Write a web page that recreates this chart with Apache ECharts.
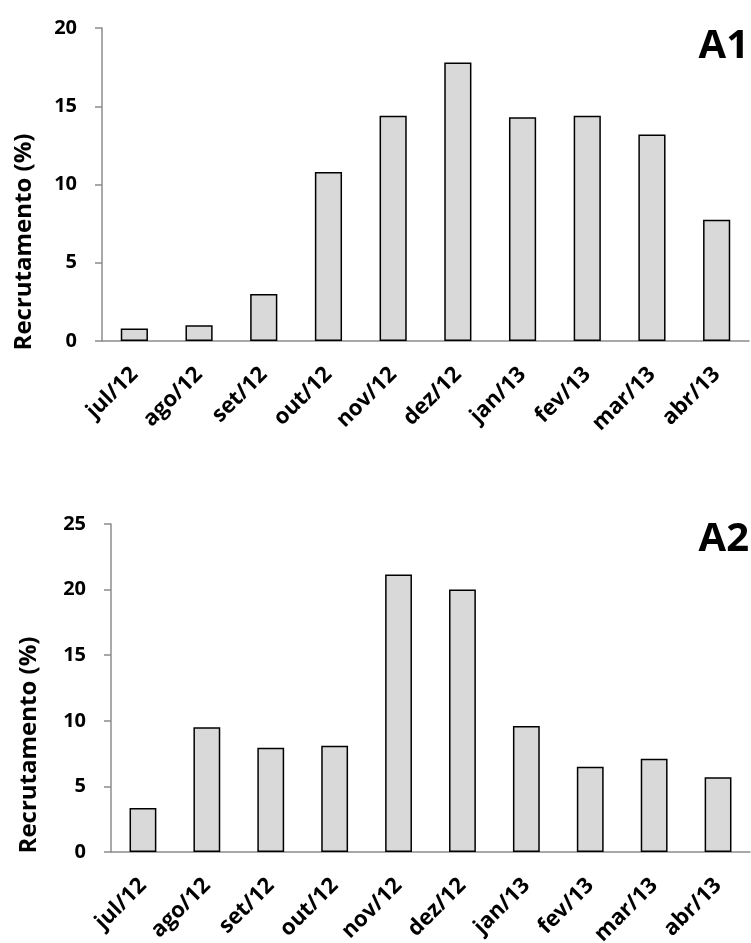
<!DOCTYPE html>
<html>
<head>
<meta charset="utf-8">
<script src="https://cdn.jsdelivr.net/npm/echarts@6/dist/echarts.min.js"></script>
<style>
	html, body { margin: 0; padding: 0; background: #fff; }
	#chart { width: 751px; height: 943px; }
</style>
</head>
<body>
<div id="chart"></div>
<script>
// meses do período de amostragem
var months = ['jul/12', 'ago/12', 'set/12', 'out/12', 'nov/12', 'dez/12', 'jan/13', 'fev/13', 'mar/13', 'abr/13'];
// recrutamento (%) painel A1
var recruitA1 = [0.8, 1.0, 3.0, 10.8, 14.4, 17.8, 14.3, 14.4, 13.2, 7.75];
// recrutamento (%) painel A2
var recruitA2 = [3.35, 9.5, 7.95, 8.1, 21.15, 20.0, 9.6, 6.5, 7.1, 5.7];

var fontFamily = '"Open Sans", "Liberation Sans", sans-serif';
var axisGray = '#8c8c8c';

function xAxisFor(gridIndex) {
	return {
		type: 'category',
		gridIndex: gridIndex,
		data: months,
		axisLine: { lineStyle: { color: axisGray, width: 1.5 } },
		axisTick: { length: 8, lineStyle: { color: axisGray, width: 1.5 } },
		axisLabel: {
			interval: 0,
			rotate: 45,
			margin: 30,
			color: '#000',
			fontSize: 22,
			fontWeight: 'bold',
			fontFamily: fontFamily
		}
	};
}

function yAxisFor(gridIndex, max) {
	return {
		type: 'value',
		gridIndex: gridIndex,
		min: 0,
		max: max,
		interval: 5,
		axisLine: { show: true, lineStyle: { color: axisGray, width: 1.5 } },
		axisTick: { show: true, length: 7, lineStyle: { color: axisGray, width: 1.5 } },
		splitLine: { show: false },
		axisLabel: {
			margin: 25,
			color: '#000',
			fontSize: 20,
			fontWeight: 'bold',
			fontFamily: fontFamily
		}
	};
}

function barSeries(idx, data) {
	return {
		type: 'bar',
		xAxisIndex: idx,
		yAxisIndex: idx,
		data: data,
		barWidth: '42%',
		itemStyle: { color: '#d9d9d9', borderColor: '#000', borderWidth: 1.5 },
		silent: true
	};
}

// título do eixo y (não centrado no eixo na figura original)
function yTitle(x, y) {
	return {
		type: 'text',
		x: x,
		y: y,
		rotation: Math.PI / 2,
		style: {
			text: 'Recrutamento (%)',
			fill: '#000',
			font: 'bold 24px ' + fontFamily,
			align: 'center',
			verticalAlign: 'middle'
		}
	};
}

var myChart = echarts.init(document.getElementById('chart'));
var option = {
	animation: false,
	backgroundColor: '#fff',
	title: [
		{ text: 'A1', right: -3, top: 22, textStyle: { fontSize: 40, fontWeight: 'bold', color: '#000', fontFamily: fontFamily } },
		{ text: 'A2', right: -3, top: 515, textStyle: { fontSize: 40, fontWeight: 'bold', color: '#000', fontFamily: fontFamily } }
	],
	grid: [
		{ left: 102, top: 28, width: 647, height: 313, outerBoundsMode: 'none' },
		{ left: 111, top: 524, width: 639, height: 328, outerBoundsMode: 'none' }
	],
	xAxis: [xAxisFor(0), xAxisFor(1)],
	yAxis: [yAxisFor(0, 20), yAxisFor(1, 25)],
	series: [barSeries(0, recruitA1), barSeries(1, recruitA2)],
	graphic: [yTitle(24, 242), yTitle(29, 745)]
};
myChart.setOption(option);
</script>
</body>
</html>
